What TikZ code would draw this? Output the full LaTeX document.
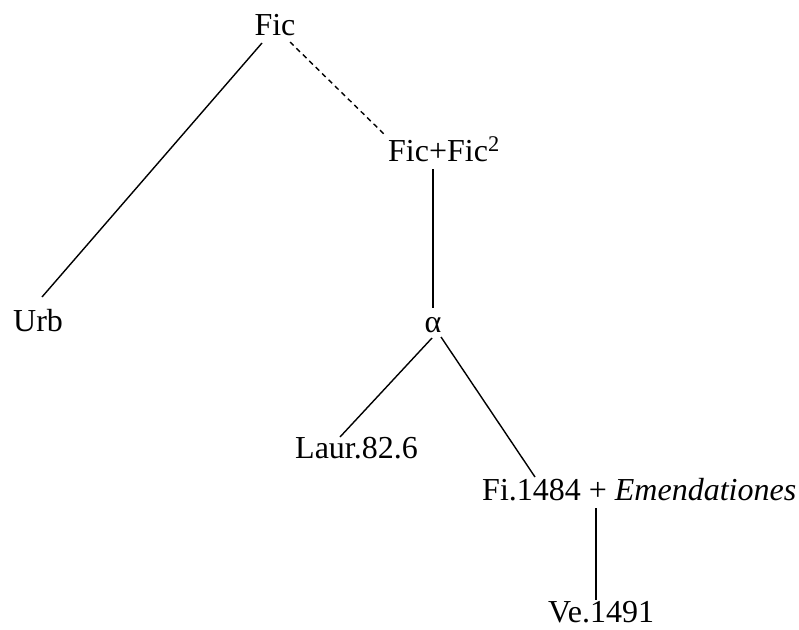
\documentclass[tikz,border=0pt]{standalone}
\usepackage{fontspec}
\setmainfont{Liberation Serif}
\begin{document}
\begin{tikzpicture}[x=1pt,y=-1pt,
  lbl/.style={inner sep=0pt,font=\fontsize{32}{38}\selectfont},
  edge/.style={line width=1.4pt},
  dashedge/.style={line width=1.4pt,dash pattern=on 5pt off 4pt}]
\useasboundingbox (0,0) rectangle (799,629);
\node[lbl,anchor=base] (fic) at (275,35) {Fic};
\node[lbl,anchor=base west] (ficfic) at (388,161) {Fic+Fic\textsuperscript{2}};
\node[lbl,anchor=base west] (urb) at (13,331) {Urb};
\node[lbl,anchor=base] (alpha) at (433,332) {α};
\node[lbl,anchor=base west] (laur) at (295,458) {Laur.82.6};
\node[lbl,anchor=base west] (fi) at (482,500) {Fi.1484 + \textit{Emendationes}};
\node[lbl,anchor=base west] (ve) at (548,622) {Ve.1491};
\draw[edge] ([shift={(-13,8)}]fic.base) -- ([shift={(29,-34)}]urb.base west);
\draw[dashedge] ([shift={(15,7)}]fic.base) -- ([shift={(-2,-25)}]ficfic.base west);
\draw[edge] ([shift={(45,8)}]ficfic.base west) -- ([shift={(0,-24)}]alpha.base);
\draw[edge] ([shift={(-1,6)}]alpha.base) -- ([shift={(45,-21)}]laur.base west);
\draw[edge] ([shift={(8,5)}]alpha.base) -- ([shift={(53,-23)}]fi.base west);
\draw[edge] ([shift={(114,8)}]fi.base west) -- ([shift={(48,-22)}]ve.base west);
\end{tikzpicture}
\end{document}
